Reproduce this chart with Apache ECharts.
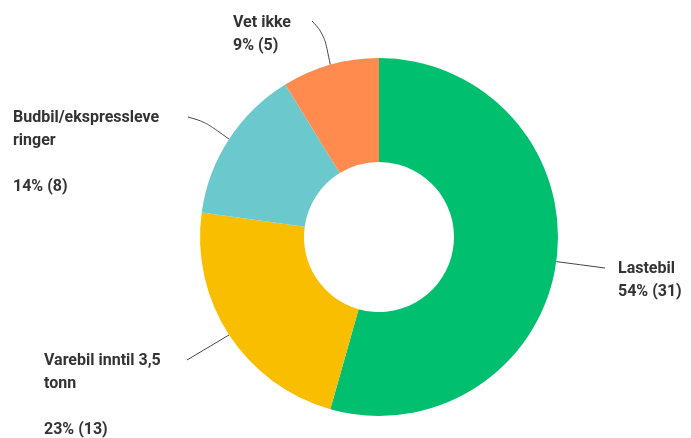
<!DOCTYPE html>
<html>
<head>
<meta charset="utf-8">
<script src="https://cdn.jsdelivr.net/npm/echarts@6/dist/echarts.min.js"></script>
<style>
  html, body { margin: 0; padding: 0; background: #fff; }
  #chart { width: 691px; height: 438px; }
</style>
</head>
<body>
<div id="chart"></div>
<script>
// Answer categories and response counts
const categories = ['Lastebil', 'Varebil inntil 3,5\ntonn', 'Budbil/ekspressleve\nringer', 'Vet ikke'];
const counts = [31, 13, 8, 5];
const percentLabels = ['54%', '23%', '14%', '9%'];
const colors = ['#00bf6f', '#f9be00', '#6bc8cd', '#ff8b4f'];

// Where each label block sits (top-left) and where its leader line ends
const labelSpots = [
  { x: 618, y: 257, end: [605, 268], mid: null, smooth: 0 },
  { x: 44, y: 349, end: [187, 360], mid: null, smooth: 0 },
  { x: 13, y: 106, end: [188, 117], mid: [205, 122], smooth: 0.3 },
  { x: 233, y: 11, end: [312, 21], mid: [324, 34], smooth: 0.4 }
];

const chart = echarts.init(document.getElementById('chart'), null, { renderer: 'canvas' });

const data = categories.map((name, i) => ({
  name,
  value: counts[i],
  itemStyle: { color: colors[i] },
  label: {
    // the two multi-line answers leave a blank line before the figure
    formatter: name.includes('\n')
      ? `${name}\n\n${percentLabels[i]} (${counts[i]})`
      : `${name}\n${percentLabels[i]} (${counts[i]})`
  },
  labelLine: { smooth: labelSpots[i].smooth }
}));

chart.setOption({
  animation: false,
  series: [{
    type: 'pie',
    center: [379, 237],
    radius: [75, 179],
    startAngle: 90,
    clockwise: true,
    avoidLabelOverlap: false,
    itemStyle: { borderWidth: 0 },
    label: {
      show: true,
      color: '#333333',
      fontFamily: 'Roboto',
      fontWeight: 'bold',
      fontSize: 16,
      lineHeight: 23,
      align: 'left'
    },
    labelLine: {
      show: true,
      lineStyle: { color: '#444444', width: 1 }
    },
    labelLayout: function (params) {
      const spot = labelSpots[params.dataIndex];
      const start = params.labelLinePoints ? params.labelLinePoints[0] : spot.end;
      const pts = spot.mid
        ? [start, spot.mid, spot.end]
        : [start, [(start[0] + spot.end[0]) / 2, (start[1] + spot.end[1]) / 2], spot.end];
      return {
        x: spot.x,
        y: spot.y,
        align: 'left',
        verticalAlign: 'top',
        labelLinePoints: pts
      };
    },
    data
  }]
});
</script>
</body>
</html>
